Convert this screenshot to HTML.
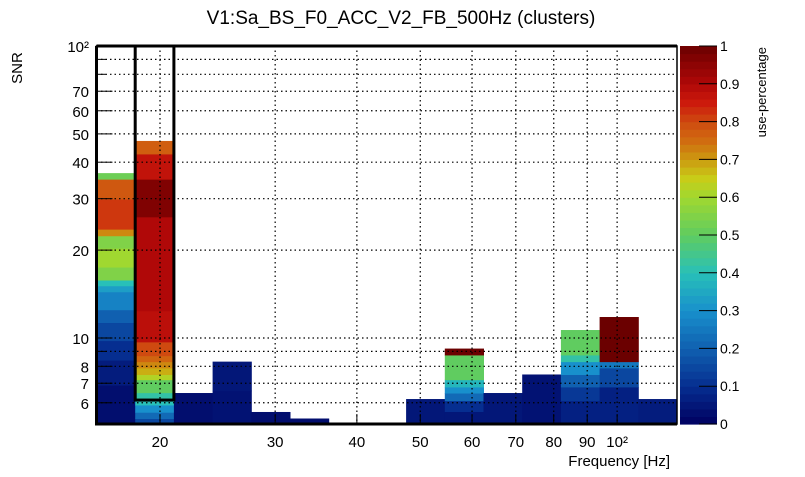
<!DOCTYPE html>
<html><head><meta charset="utf-8">
<style>
body{margin:0;background:#fff;}
svg text{font-family:"Liberation Sans",sans-serif;fill:#000;}
</style></head>
<body>
<svg id="c" width="805" height="472" viewBox="0 0 805 472" xmlns="http://www.w3.org/2000/svg">
<rect width="805" height="472" fill="#fff"/>
<text x="401" y="24" font-size="19" text-anchor="middle">V1:Sa_BS_F0_ACC_V2_FB_500Hz (clusters)</text>
<g id="cells"></g>
<g id="grid"></g>
<g id="axes"></g>
<g id="cbar"></g>
<text x="670" y="466" font-size="15" text-anchor="end">Frequency [Hz]</text>
<text transform="translate(22,68) rotate(-90)" font-size="15" text-anchor="middle">SNR</text>
<text transform="translate(766,47) rotate(-90)" font-size="13" text-anchor="end">use-percentage</text>
</svg>
<script>
// frequency bin index per column (15 log bins)
const columns=[0,1,2,3,4,5,8,9,10,11,12,13,14];
// SNR boundaries per column (low->high) and cell values
const snrEdges=[
 [5.08,6.9,8.4,9.8,11.3,12.5,14.4,15.1,15.8,17.5,20.3,22.4,23.6,29.9,35,36.7],
 [5.08,5.3,5.57,5.9,6.13,6.5,7.2,7.5,7.9,8.3,8.7,9.7,12.4,26,35,42.7,47.3],
 [5.08,6.48],
 [5.08,6.6,8.3],
 [5.08,5.58],
 [5.08,5.3],
 [5.08,6.18],
 [5.08,5.6,6.1,6.48,6.8,7.2,8.75,9.2],
 [5.08,6.48],
 [5.08,7.5],
 [5.08,6.1,6.8,7.5,8.3,8.75,10.65],
 [5.08,6.8,7.9,8.3,11.8],
 [5.08,6.18]
];
const cellValues=[
 [0.03,0.06,0.1,0.15,0.2,0.27,0.33,0.4,0.55,0.6,0.55,0.72,0.82,0.78,0.52],
 [0.15,0.22,0.3,0.4,0.42,0.5,0.62,0.68,0.72,0.76,0.8,0.88,0.9,0.97,0.87,0.77],
 [0.03],
 [0.04,0.05],
 [0.03],
 [0.03],
 [0.05],
 [0.05,0.1,0.22,0.3,0.38,0.5,1.0],
 [0.05],
 [0.04],
 [0.07,0.12,0.2,0.3,0.42,0.5],
 [0.07,0.15,0.25,1.0],
 [0.06]
];
const xTicks=[20,30,40,50,60,70,80,90,100];
const xTickLabels=["20","30","40","50","60","70","80","90","10²"];
const yTicks=[6,7,8,9,10,20,30,40,50,60,70,80,90,100];
const yTickLabels=["6","7","8","","10","20","30","40","50","60","70","","","10²"];
const cbTicks=[0,0.1,0.2,0.3,0.4,0.5,0.6,0.7,0.8,0.9,1];

const X0=96.5,X1=677,Y0=46,Y1=424,NB=15;
const LX0=Math.log10(20)-63.5/654, PXD=654;
function xs(f){return 160+(Math.log10(f)-Math.log10(20))*PXD;}
function xb(i){return X0+i*(X1-X0)/NB;}
function ys(s){return 338-(Math.log10(s)-1)*292;}
const stops=[[0,[0,0,96]],[0.1,[6,46,144]],[0.2,[16,96,176]],[0.3,[24,144,204]],[0.4,[40,192,184]],[0.5,[96,204,96]],[0.6,[160,216,48]],[0.65,[200,204,24]],[0.7,[204,154,16]],[0.75,[208,108,16]],[0.8,[207,74,16]],[0.85,[204,26,12]],[0.9,[176,8,8]],[1,[107,0,0]]];
function col(v){for(let i=1;i<stops.length;i++){if(v<=stops[i][0]){const a=stops[i-1],b=stops[i];const t=(v-a[0])/(b[0]-a[0]);const c=a[1].map((x,k)=>Math.round(x+(b[1][k]-x)*t));return `rgb(${c})`;}}return 'rgb(107,0,0)';}
const NS="http://www.w3.org/2000/svg";
function mk(tag,attrs,parent){const e=document.createElementNS(NS,tag);for(const k in attrs)e.setAttribute(k,attrs[k]);parent.appendChild(e);return e;}
const gc=document.getElementById('cells'),gg=document.getElementById('grid'),ga=document.getElementById('axes'),gb=document.getElementById('cbar');
columns.forEach((ci,j)=>{const ed=snrEdges[j];cellValues[j].forEach((v,k)=>{
 const yT=ys(ed[k+1]),yB=Math.min(Y1,ys(ed[k]));
 const r=mk('rect',{x:xb(ci),y:yT,width:(X1-X0)/NB+0.5,height:yB-yT+0.5,fill:col(v)},gc);
 
 
});});
// grid
xTicks.forEach(f=>{const x=xs(f);const l=mk('line',{x1:x,x2:x,y1:Y0,y2:Y1,stroke:'#000','stroke-width':1.2,'stroke-dasharray':'1.5,3'},gg);
 
 
 const t=mk('line',{x1:x,x2:x,y1:Y1,y2:Y1-10,stroke:'#000','stroke-width':1},ga);
 
 });
xTicks.forEach((f,i)=>{const t=mk('text',{x:xs(f),y:447,'font-size':15,'text-anchor':'middle'},ga);t.textContent=xTickLabels[i];
 
 });
yTicks.forEach((s,i)=>{const y=ys(s);const l=mk('line',{x1:X0,x2:X1,y1:y,y2:y,stroke:'#000','stroke-width':1.2,'stroke-dasharray':'1.5,3'},gg);
 
 
 const tk=mk('line',{x1:X0,x2:X0+(yTickLabels[i]?16:9),y1:y,y2:y,stroke:'#000','stroke-width':1},ga);
 
 
 if(yTickLabels[i]){const t=mk('text',{x:89,y:y+6,'font-size':15,'text-anchor':'end'},ga);t.textContent=yTickLabels[i];
 
 }});
// frame
const fr=mk('rect',{x:X0,y:Y0,width:X1-X0,height:Y1-Y0,fill:'none',stroke:'#000','stroke-width':1.5},ga);


const ln=mk('path',{d:`M${X0},${Y0}H${X1}M${X0},${Y0}V${Y1}H${X1}`,fill:'none',stroke:'#000','stroke-width':3},ga);


const hb=mk('rect',{x:xb(1),y:Y0,width:(X1-X0)/NB,height:ys(6.13)-Y0,fill:'none',stroke:'#000','stroke-width':3},ga);


// colorbar
const CX=680,CW=37,N=50;
for(let i=0;i<N;i++){const v0=i/N;const y=Y1-(i+1)*(Y1-Y0)/N;const r=mk('rect',{x:CX,y:y,width:CW,height:(Y1-Y0)/N+0.6,fill:col(v0+0.5/N)},gb);
 
 }
cbTicks.forEach(v=>{const y=Y1-v*(Y1-Y0);const l=mk('line',{x1:CX+CW-18,x2:CX+CW,y1:y,y2:y,stroke:'#000','stroke-width':1},gb);
 
 
 const t=mk('text',{x:CX+CW+3,y:y+5,'font-size':14},gb);t.textContent=String(v);
 
 });
</script>
</body></html>
